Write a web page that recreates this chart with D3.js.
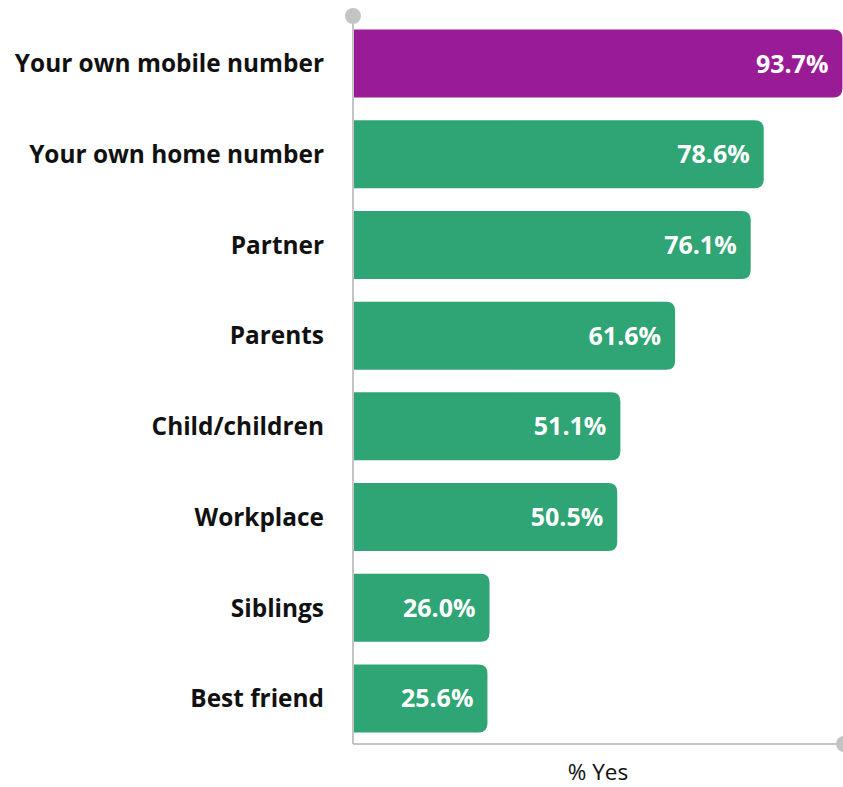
<!DOCTYPE html>
<html>
<head>
<meta charset="utf-8">
<script src="https://cdn.jsdelivr.net/npm/d3@7"></script>
<style>
  html, body { margin: 0; padding: 0; background: #fff; }
  svg { display: block; }
</style>
</head>
<body>
<svg id="chart" width="843" height="787"></svg>
<script>
const categories = ["Your own mobile number", "Your own home number", "Partner", "Parents",
                    "Child/children", "Workplace", "Siblings", "Best friend"];
const values = [93.7, 78.6, 76.1, 61.6, 51.1, 50.5, 26.0, 25.6];
const highlight = ["Your own mobile number"];
const axisTitle = "% Yes";

const svg = d3.select("#chart");
const font = "'Open Sans', sans-serif";
const axisColor = "#c4c4c4";

const x = d3.scaleLinear().domain([0, 94]).range([354, 844]);
const y = d3.scaleBand().domain(categories).range([18, 744]).paddingInner(0.25).paddingOuter(0.127);

// bars with rounded right-hand corners only
function barPath(x0, x1, y0, h, r) {
  return `M${x0},${y0} H${x1 - r} Q${x1},${y0} ${x1},${y0 + r} V${y0 + h - r} Q${x1},${y0 + h} ${x1 - r},${y0 + h} H${x0} Z`;
}

const data = categories.map((c, i) => ({ c, v: values[i] }));

svg.append("g").selectAll("path").data(data).join("path")
  .attr("d", d => barPath(x(0), x(d.v), y(d.c), y.bandwidth(), 9))
  .attr("fill", d => highlight.includes(d.c) ? "#9a1b96" : "#2fa474");

// value labels inside bar ends
svg.append("g").selectAll("text").data(data).join("text")
  .attr("x", d => x(d.v) - 14)
  .attr("y", d => y(d.c) + y.bandwidth() / 2)
  .attr("dy", "0.36em")
  .attr("text-anchor", "end")
  .attr("fill", "#fff")
  .attr("font-family", font)
  .attr("font-weight", 700)
  .attr("font-size", 25)
  .text(d => d.v.toFixed(1) + "%");

// category labels
svg.append("g").selectAll("text").data(data).join("text")
  .attr("x", 324)
  .attr("y", d => y(d.c) + y.bandwidth() / 2)
  .attr("dy", "0.36em")
  .attr("text-anchor", "end")
  .attr("fill", "#111")
  .attr("font-family", font)
  .attr("font-weight", 700)
  .attr("font-size", 24.4)
  .text(d => d.c);

// axes with round end caps
const ax = svg.append("g");
ax.append("line").attr("x1", 353).attr("x2", 353).attr("y1", 16).attr("y2", 744)
  .attr("stroke", axisColor).attr("stroke-width", 2);
ax.append("line").attr("x1", 353).attr("x2", 843).attr("y1", 744).attr("y2", 744)
  .attr("stroke", axisColor).attr("stroke-width", 2);
ax.append("circle").attr("cx", 353).attr("cy", 16).attr("r", 8).attr("fill", axisColor);
ax.append("circle").attr("cx", 844).attr("cy", 744).attr("r", 8).attr("fill", axisColor);

svg.append("text")
  .attr("x", 598).attr("y", 780)
  .attr("text-anchor", "middle")
  .attr("fill", "#111")
  .attr("font-family", font)
  .attr("font-size", 22.5)
  .text(axisTitle);
</script>
</body>
</html>
